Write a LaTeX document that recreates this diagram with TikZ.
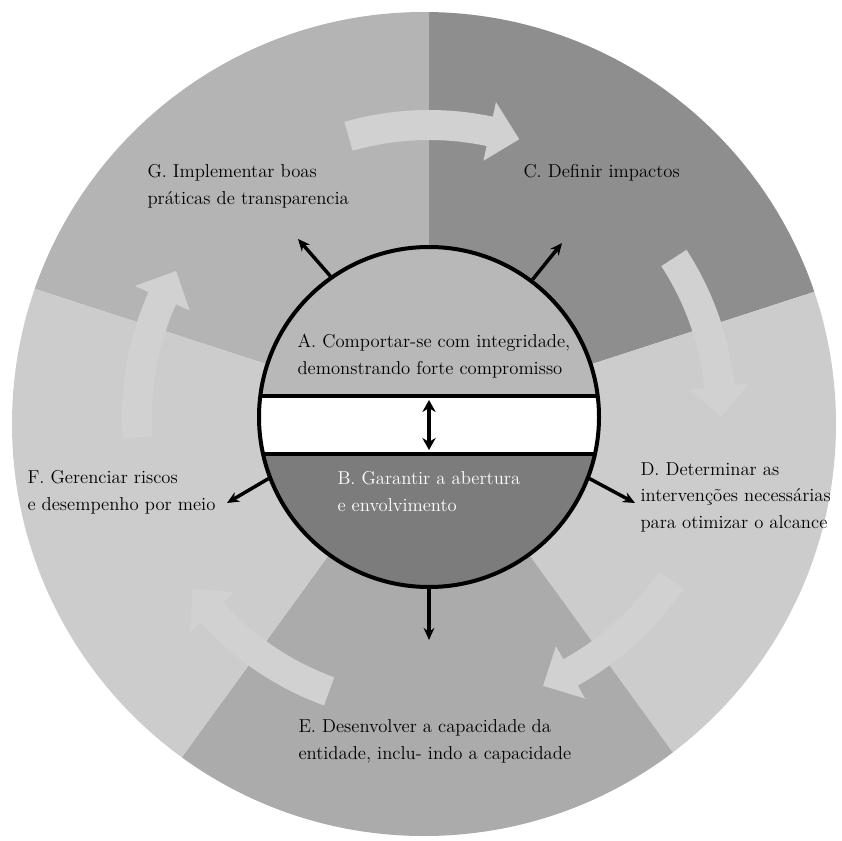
\documentclass[tikz,border=0pt]{standalone}
\usetikzlibrary{arrows.meta}

\tikzset{every picture/.style={line width=0.75pt}}
\tikzset{
	secG/.style={fill={rgb, 255:red, 180; green, 180; blue, 180 }},
	secC/.style={fill={rgb, 255:red, 142; green, 142; blue, 142 }},
	secD/.style={fill={rgb, 255:red, 204; green, 204; blue, 204 }},
	secE/.style={fill={rgb, 255:red, 171; green, 171; blue, 171 }},
	secF/.style={fill={rgb, 255:red, 204; green, 204; blue, 204 }},
	partA/.style={fill={rgb, 255:red, 184; green, 184; blue, 184 }},
	partB/.style={fill={rgb, 255:red, 124; green, 124; blue, 124 }},
	bigarrow/.style={fill={rgb, 255:red, 209; green, 209; blue, 209 }},
	bandline/.style={draw=black, line width=3pt},
	hub/.style={circle, draw=black, line width=3pt, minimum size=255pt, inner sep=0pt},
	blkarrow/.style={draw=black, line width=2.6pt, -{Stealth[length=9pt,width=8pt]}},
	lbl/.style={font=\fontsize{14}{20}\selectfont, align=left, anchor=north west, inner sep=0pt}
}

\begin{document}
\begin{tikzpicture}[x=0.75pt,y=0.75pt,yscale=-1,xscale=1]
	\useasboundingbox (0,0) rectangle (841,841);

	%Shape: outer disc, five sectors
	\begin{scope}
		\clip (424,424) circle (412);
		\begin{scope}[shift={(429,417)}]
			\fill[secG] (0,0) -- (198:700) arc[start angle=198, end angle=270, radius=700] -- cycle;
			\fill[secC] (0,0) -- (-90:700) arc[start angle=-90, end angle=-18, radius=700] -- cycle;
			\fill[secD] (0,0) -- (-18:700) arc[start angle=-18, end angle=54, radius=700] -- cycle;
			\fill[secE] (0,0) -- (54:700) arc[start angle=54, end angle=126, radius=700] -- cycle;
			\fill[secF] (0,0) -- (126:700) arc[start angle=126, end angle=198, radius=700] -- cycle;
			%Shape: light curved arrows
			\foreach \s/\e [evaluate=\e as \h using \e-6] in {-106/-72, -33/0, 34/67, 110/144, 176/210}
				\fill[bigarrow] (\s:307) arc[start angle=\s, end angle=\h, radius=307] -- (\h:322) -- (\e:292) -- (\h:262) -- (\h:277) arc[start angle=\h, end angle=\s, radius=277] -- cycle;
		\end{scope}
	\end{scope}

	%Shape: inner circle, two halves and white band
	\begin{scope}
		\clip (429,417) circle (170);
		\fill[partA] (250,240) rectangle (610,396);
		\fill[white] (250,396) rectangle (610,454);
		\fill[partB] (250,454) rectangle (610,600);
		\draw[bandline] (250,396) -- (610,396);
		\draw[bandline] (250,454) -- (610,454);
	\end{scope}
	\node[hub] (hub) at (429,417) {};

	% arrow ends
	\coordinate (tipG) at (298,239);
	\coordinate (tipC) at (562,243);
	\coordinate (tipF) at (227,503);
	\coordinate (tipD) at (635,503);
	\coordinate (tipE) at (429,640);
	\coordinate (bandup) at (429,400);
	\coordinate (banddown) at (429,450);

	\draw[blkarrow] (hub.125) -- (tipG);
	\draw[blkarrow] (hub.53) -- (tipC);
	\draw[blkarrow] (hub.201) -- (tipF);
	\draw[blkarrow] (hub.-21) -- (tipD);
	\draw[blkarrow] (hub.-90) -- (tipE);
	\draw[blkarrow, line width=3pt, {Stealth[length=9pt,width=10pt]}-{Stealth[length=9pt,width=10pt]}] (bandup) -- (banddown);

	% Text Node
	\node[lbl] (G) at (147,164) {G. Implementar boas\\práticas de transparencia};
	% Text Node
	\node[lbl] (C) at (523,164) {C. Definir impactos};
	% Text Node
	\node[lbl] (A) at (297,334) {A. Comportar-se com integridade,\\demonstrando forte compromisso};
	% Text Node
	\node[lbl, text=white] (B) at (337,471) {B. Garantir a abertura\\e envolvimento};
	% Text Node
	\node[lbl] (D) at (640,462) {D. Determinar as\\intervenções necessárias\\para otimizar o alcance};
	% Text Node
	\node[lbl] (F) at (27,470) {F. Gerenciar riscos\\e desempenho por meio};
	% Text Node
	\node[lbl] (E) at (298,719) {E. Desenvolver a capacidade da\\entidade, inclu- indo a capacidade};

\end{tikzpicture}
\end{document}
